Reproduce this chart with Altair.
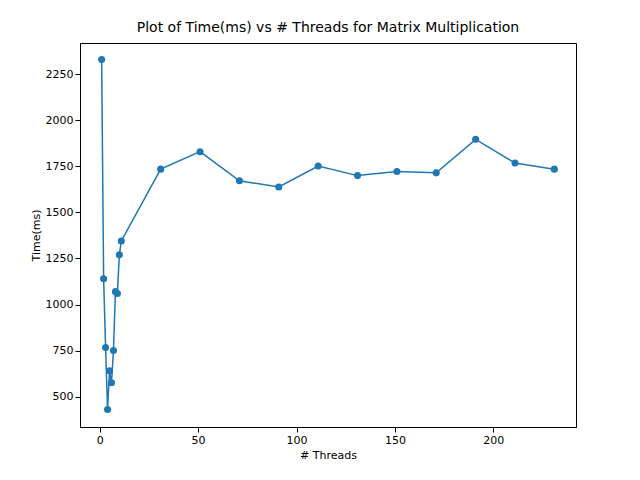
import altair as alt
import pandas as pd

threads = [1,2,3,4,5,6,7,8,9,10,11,31,51,71,91,111,131,151,171,191,211,231]
times = [2330,1140,766,430,640,575,750,1070,1060,1270,1345,1735,1830,1672,1638,1752,1700,1722,1715,1897,1768,1735]
df = pd.DataFrame({"t": threads, "ms": times, "o": range(len(threads))})

c = "#1f77b4"
x = alt.X("t:Q", title="# Threads", scale=alt.Scale(domain=[-10, 242], nice=False, zero=False),
          axis=alt.Axis(values=[0,50,100,150,200], grid=False, format="d"))
y = alt.Y("ms:Q", title="Time(ms)", scale=alt.Scale(domain=[335, 2420], nice=False, zero=False),
          axis=alt.Axis(values=[500,750,1000,1250,1500,1750,2000,2250], grid=False, format="d"))
base = alt.Chart(df).encode(x=x, y=y, order="o:Q")
chart = (base.mark_line(color=c, strokeWidth=1.5) + base.mark_circle(color=c, size=50, opacity=1)).properties(
    width=496, height=384,
    autosize=alt.AutoSizeParams(type="none"),
    padding={"left": 72, "top": 35, "right": 56, "bottom": 53},
    title=alt.TitleParams("Plot of Time(ms) vs # Threads for Matrix Multiplication", fontSize=14, fontWeight="normal", font="DejaVu Sans", offset=8),
).configure_axis(labelFont="DejaVu Sans", titleFont="DejaVu Sans", labelFontSize=11, titleFontSize=11,
                 titleFontWeight="normal", domainColor="black", tickColor="black", labelColor="black"
).configure_view(stroke="black")
chart.save("out.html", embed_options={"renderer": "svg", "actions": False})
